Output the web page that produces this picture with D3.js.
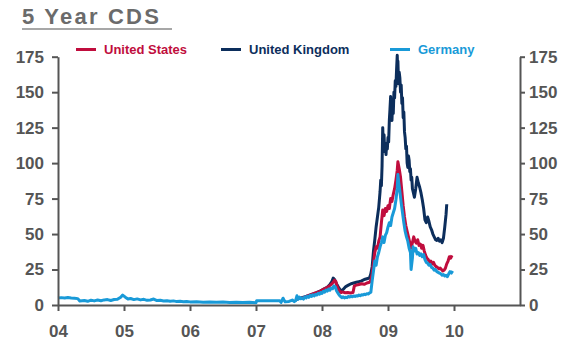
<!DOCTYPE html>
<html>
<head>
<meta charset="utf-8">
<script src="https://cdn.jsdelivr.net/npm/d3@7"></script>
<style>
  html, body { margin: 0; padding: 0; background: #fff; }
  svg { display: block; font-family: "Liberation Sans", Arial, sans-serif; }
</style>
</head>
<body>
<svg id="chart" width="567" height="347"></svg>
<script>
// ---- Data (decimal years, CDS spread in bp) ----
const title = "5 Year CDS";
const seriesNames = ["United States", "United Kingdom", "Germany"];
const yTicks = [0, 25, 50, 75, 100, 125, 150, 175];
const xTickYears = [2004, 2005, 2006, 2007, 2008, 2009, 2010];
const xTickLabels = ["04", "05", "06", "07", "08", "09", "10"];

const deTimes = [
  2004.00, 2004.05, 2004.10, 2004.15, 2004.20, 2004.25, 2004.30, 2004.33, 2004.40, 2004.45,
  2004.50, 2004.55, 2004.60, 2004.65, 2004.70, 2004.75, 2004.80, 2004.85, 2004.90, 2004.95,
  2004.98, 2005.02, 2005.06, 2005.10, 2005.15, 2005.20, 2005.25, 2005.30, 2005.35, 2005.40,
  2005.45, 2005.50, 2005.55, 2005.60, 2005.65, 2005.70, 2005.75, 2005.80, 2005.85, 2005.90,
  2005.95, 2006.00, 2006.10, 2006.20, 2006.30, 2006.40, 2006.50, 2006.60, 2006.70, 2006.80,
  2006.90, 2007.00, 2007.01, 2007.15, 2007.30, 2007.36, 2007.38, 2007.41, 2007.44, 2007.50,
  2007.55, 2007.58, 2007.60, 2007.62, 2007.64, 2007.66, 2007.68, 2007.70, 2007.72, 2007.74,
  2007.76, 2007.78, 2007.80, 2007.82, 2007.84, 2007.86, 2007.88, 2007.90, 2007.92, 2007.94,
  2007.96, 2007.98, 2008.00, 2008.02, 2008.04, 2008.06, 2008.08, 2008.10, 2008.12, 2008.14,
  2008.16, 2008.18, 2008.20, 2008.22, 2008.24, 2008.26, 2008.28, 2008.30, 2008.32, 2008.34,
  2008.36, 2008.38, 2008.40, 2008.42, 2008.44, 2008.46, 2008.48, 2008.50, 2008.52, 2008.54,
  2008.56, 2008.58, 2008.60, 2008.62, 2008.64, 2008.66, 2008.68, 2008.70, 2008.72, 2008.74,
  2008.76, 2008.78, 2008.80, 2008.82, 2008.84, 2008.86, 2008.88, 2008.90, 2008.92, 2008.94,
  2008.96, 2008.98, 2009.00, 2009.02, 2009.04, 2009.06, 2009.08, 2009.10, 2009.12, 2009.14,
  2009.15, 2009.16, 2009.18, 2009.20, 2009.22, 2009.24, 2009.26, 2009.28, 2009.30, 2009.32,
  2009.34, 2009.35, 2009.37, 2009.38, 2009.40, 2009.42, 2009.44, 2009.46, 2009.48, 2009.50,
  2009.52, 2009.54, 2009.56, 2009.58, 2009.60, 2009.62, 2009.64, 2009.66, 2009.68, 2009.70,
  2009.72, 2009.74, 2009.76, 2009.78, 2009.80, 2009.82, 2009.84, 2009.86, 2009.88, 2009.90,
  2009.92, 2009.94, 2009.96, 2009.98
];
const deValues = [
  5.0, 5.2, 5.0, 5.3, 5.0, 4.8, 4.5, 2.8, 3.2, 2.6,
  3.4, 2.9, 3.5, 3.0, 3.6, 3.8, 3.2, 3.9, 4.0, 5.5,
  7.0, 5.5, 4.2, 4.6, 3.8, 4.3, 3.6, 4.0, 3.3, 3.5,
  4.2, 3.1, 3.3, 2.8, 3.0, 2.6, 2.9, 2.4, 2.6, 2.3,
  2.5, 2.2, 2.3, 2.0, 2.2, 1.9, 2.1, 1.8, 2.0, 1.7,
  1.9, 1.6, 3.0, 3.0, 3.0, 3.0, 1.8, 4.8, 2.2, 2.5,
  3.5, 2.4, 3.0, 6.5, 4.0, 5.5, 4.5, 5.0, 4.2, 5.8,
  5.0, 6.2, 5.4, 6.8, 6.0, 7.2, 6.4, 7.5, 7.0, 8.2,
  7.6, 8.8, 8.2, 9.6, 9.0, 10.5, 9.8, 11.2, 10.4, 12.0,
  11.5, 13.5, 12.8, 10.0, 8.5, 7.0, 6.0, 5.2, 5.8, 5.0,
  5.5, 5.2, 6.0, 5.6, 6.2, 5.8, 6.4, 6.0, 6.6, 6.3,
  7.0, 6.6, 7.2, 7.0, 7.6, 7.3, 8.0, 7.8, 8.5, 9.0,
  17.0, 24.0, 31.0, 28.0, 34.0, 37.0, 41.0, 44.0, 48.0, 44.0,
  49.0, 51.0, 55.0, 58.0, 56.0, 62.0, 65.0, 68.0, 74.0, 82.0,
  92.0, 87.0, 80.0, 72.0, 65.0, 58.0, 52.0, 48.0, 45.0, 40.0,
  37.0, 25.0, 33.0, 41.0, 38.0, 40.0, 36.0, 37.0, 35.0, 36.0,
  34.0, 35.5, 32.0, 30.0, 29.5, 28.0, 28.5, 26.5, 26.0, 24.5,
  25.0, 23.5, 23.0, 22.5, 22.0, 21.0, 21.5, 20.5, 21.0, 20.0,
  22.0, 23.5, 22.5, 24.0
];

const usTimes = [
  2007.70, 2007.74, 2007.78, 2007.82, 2007.86, 2007.90, 2007.94, 2007.98, 2008.02, 2008.06,
  2008.10, 2008.14, 2008.17, 2008.19, 2008.21, 2008.23, 2008.25, 2008.27, 2008.29, 2008.31,
  2008.35, 2008.39, 2008.43, 2008.47, 2008.49, 2008.52, 2008.56, 2008.60, 2008.64, 2008.68,
  2008.72, 2008.74, 2008.76, 2008.78, 2008.80, 2008.82, 2008.84, 2008.86, 2008.88, 2008.90,
  2008.92, 2008.94, 2008.96, 2008.98, 2009.00, 2009.02, 2009.04, 2009.06, 2009.08, 2009.10,
  2009.12, 2009.14, 2009.15, 2009.17, 2009.19, 2009.21, 2009.23, 2009.25, 2009.27, 2009.29,
  2009.31, 2009.33, 2009.35, 2009.37, 2009.39, 2009.41, 2009.43, 2009.45, 2009.47, 2009.49,
  2009.51, 2009.53, 2009.55, 2009.57, 2009.59, 2009.61, 2009.63, 2009.65, 2009.67, 2009.69,
  2009.71, 2009.73, 2009.75, 2009.77, 2009.79, 2009.81, 2009.83, 2009.85, 2009.87, 2009.89,
  2009.91, 2009.93, 2009.95, 2009.97
];
const usValues = [
  5.0, 5.5, 6.5, 7.0, 7.8, 8.5, 9.0, 10.0, 11.0, 12.0,
  13.0, 14.5, 16.0, 17.5, 16.5, 13.0, 11.0, 9.5, 8.8, 9.2,
  8.6, 8.8, 8.4, 8.8, 13.5, 14.0, 14.5, 15.0, 14.6, 15.5,
  16.0, 17.5, 22.0, 30.0, 37.0, 41.0, 40.0, 45.0, 48.0, 58.0,
  67.0, 63.0, 68.0, 66.0, 70.0, 68.0, 75.0, 73.0, 78.0, 82.0,
  88.0, 95.0, 101.0, 96.0, 90.0, 80.0, 70.0, 62.0, 56.0, 52.0,
  48.0, 44.0, 40.0, 44.0, 48.0, 45.0, 43.5, 46.0, 42.0, 43.0,
  40.0, 42.0, 38.0, 35.0, 33.0, 32.0, 30.0, 31.0, 29.0, 30.0,
  28.0, 27.0, 26.5, 25.5, 26.0, 25.0, 24.0, 24.5, 26.0, 29.0,
  31.0, 34.0, 33.0, 35.0
];

const ukTimes = [
  2007.60, 2007.64, 2007.68, 2007.72, 2007.76, 2007.80, 2007.84, 2007.88, 2007.92, 2007.96,
  2008.00, 2008.04, 2008.08, 2008.12, 2008.15, 2008.17, 2008.19, 2008.21, 2008.23, 2008.25,
  2008.27, 2008.30, 2008.33, 2008.36, 2008.40, 2008.44, 2008.48, 2008.52, 2008.56, 2008.60,
  2008.64, 2008.68, 2008.72, 2008.74, 2008.76, 2008.78, 2008.80, 2008.82, 2008.84, 2008.86,
  2008.88, 2008.89, 2008.90, 2008.91, 2008.92, 2008.93, 2008.94, 2008.95, 2008.96, 2008.97,
  2008.98, 2008.99, 2009.00, 2009.01, 2009.02, 2009.03, 2009.04, 2009.05, 2009.06, 2009.07,
  2009.08, 2009.09, 2009.10, 2009.11, 2009.12, 2009.13, 2009.14, 2009.145, 2009.15, 2009.16,
  2009.17, 2009.18, 2009.19, 2009.20, 2009.21, 2009.22, 2009.23, 2009.24, 2009.25, 2009.26,
  2009.27, 2009.28, 2009.29, 2009.30, 2009.31, 2009.32, 2009.33, 2009.34, 2009.35, 2009.36,
  2009.37, 2009.38, 2009.40, 2009.42, 2009.44, 2009.46, 2009.48, 2009.50, 2009.52, 2009.54,
  2009.56, 2009.58, 2009.60, 2009.62, 2009.64, 2009.66, 2009.68, 2009.70, 2009.72, 2009.74,
  2009.76, 2009.78, 2009.80, 2009.82, 2009.84, 2009.86, 2009.88, 2009.89
];
const ukValues = [
  3.5, 4.5, 5.0, 5.5, 6.0, 6.5, 7.5, 8.0, 8.8, 9.5,
  10.5, 11.5, 12.5, 14.5, 16.5, 19.0, 18.0, 16.0, 14.0, 12.5,
  11.0, 10.0, 11.5, 13.0, 14.0, 15.0, 15.5, 16.0, 16.5, 17.0,
  18.0, 18.5, 19.0, 22.0, 27.0, 38.0, 46.0, 55.0, 62.0, 69.0,
  80.0, 88.0, 84.0, 98.0, 125.0, 112.0, 120.0, 108.0, 113.0, 106.0,
  114.0, 110.0, 118.0, 115.0, 130.0, 138.0, 147.0, 138.0, 130.0, 142.0,
  135.0, 150.0, 146.0, 158.0, 154.0, 166.0, 176.0, 168.0, 172.0, 156.0,
  164.0, 160.0, 150.0, 155.0, 142.0, 146.0, 132.0, 136.0, 122.0, 118.0,
  110.0, 112.0, 100.0, 97.0, 105.0, 102.0, 94.0, 96.0, 88.0, 90.0,
  82.0, 80.0, 76.0, 82.0, 90.0, 86.0, 83.0, 79.0, 74.0, 68.0,
  60.0, 58.0, 62.0, 59.0, 55.0, 53.0, 50.0, 48.0, 46.0, 45.5,
  47.0, 45.0, 46.0, 44.0, 47.0, 55.0, 64.0, 71.0
];

const colors = { us: "#c00d3d", uk: "#0c2e5c", de: "#199ad8" };

// ---- Layout ----
const svg = d3.select("#chart");
const mLeft = 58, mRight = 520, mTop = 56.7, mBottom = 305;

const x = d3.scaleLinear().domain([2004, 2011]).range([mLeft, mRight]);
const y = d3.scaleLinear().domain([0, 175]).range([mBottom, mTop]);

const axisColor = "#555";
const labelFont = "bold 17px 'Liberation Sans', Arial, sans-serif";

// Title
svg.append("text")
  .attr("x", 22).attr("y", 24)
  .attr("fill", "#6b6b6b")
  .style("font", "bold 22px 'Liberation Sans', Arial, sans-serif")
  .style("letter-spacing", "2.2px")
  .text(title);
svg.append("line")
  .attr("x1", 22).attr("x2", 172).attr("y1", 29).attr("y2", 29)
  .attr("stroke", "#8a8a8a").attr("stroke-width", 1.5);

// Lines
const line = d3.line().x(d => x(d[0])).y(d => y(d[1]));
const zip = (t, v) => t.map((tt, i) => [tt, v[i]]);

const plot = svg.append("g");
[[ukTimes, ukValues, colors.uk], [usTimes, usValues, colors.us], [deTimes, deValues, colors.de]]
  .forEach(([t, v, c]) => {
    plot.append("path")
      .datum(zip(t, v))
      .attr("d", line)
      .attr("fill", "none")
      .attr("stroke", c)
      .attr("stroke-width", 3)
      .attr("stroke-linejoin", "round");
  });

// Axes
function styleAxis(g) {
  g.select(".domain").attr("stroke", axisColor).attr("stroke-width", 2);
  g.selectAll(".tick line").attr("stroke", axisColor).attr("stroke-width", 2);
  g.selectAll(".tick text").attr("fill", axisColor).style("font", labelFont);
}

svg.append("g")
  .attr("transform", `translate(${mLeft},0)`)
  .call(d3.axisLeft(y).tickValues(yTicks).tickSize(6).tickSizeOuter(0).tickPadding(8))
  .call(styleAxis);

svg.append("g")
  .attr("transform", `translate(${mRight},0)`)
  .call(d3.axisRight(y).tickValues(yTicks).tickSize(5).tickSizeOuter(0).tickPadding(4))
  .call(styleAxis);

svg.append("g")
  .attr("transform", `translate(0,${mBottom})`)
  .call(d3.axisBottom(x).tickValues(xTickYears).tickFormat((d, i) => xTickLabels[i])
        .tickSize(6).tickSizeOuter(0).tickPadding(14))
  .call(styleAxis);

// Legend
const legendItems = [
  { name: seriesNames[0], color: colors.us, x: 76 },
  { name: seriesNames[1], color: colors.uk, x: 221 },
  { name: seriesNames[2], color: colors.de, x: 390 }
];
const lg = svg.append("g");
legendItems.forEach(it => {
  lg.append("line")
    .attr("x1", it.x).attr("x2", it.x + 20).attr("y1", 49.5).attr("y2", 49.5)
    .attr("stroke", it.color).attr("stroke-width", 3);
  lg.append("text")
    .attr("x", it.x + 28).attr("y", 54)
    .attr("fill", it.color)
    .style("font", "bold 13px 'Liberation Sans', Arial, sans-serif")
    .text(it.name);
});
</script>
</body>
</html>
